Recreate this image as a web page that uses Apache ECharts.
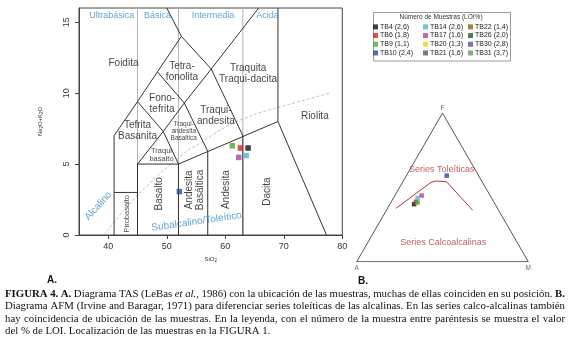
<!DOCTYPE html>
<html><head><meta charset="utf-8">
<script src="https://cdn.jsdelivr.net/npm/echarts@6/dist/echarts.min.js"></script>
<style>html,body{margin:0;padding:0;background:#fff}#c{width:570px;height:340px}</style>
</head><body><div id="c"></div>
<script>
// ---------- Samples ----------
const sampleNames = ['TB4 (2,6)','TB6 (1,8)','TB9 (1,1)','TB10 (2,4)','TB14 (2,6)','TB17 (1,6)','TB20 (1,3)','TB21 (1,6)','TB22 (1,4)','TB26 (2,0)','TB30 (2,8)','TB31 (3,7)'];
const sampleColors = ['#111111','#e01f1f','#58a832','#2b4a9a','#4cb5d2','#b0459e','#e6d323','#5a5a5a','#8b5c1c','#1f5c2a','#55559c','#5f9a5f'];
// TAS: SiO2 (wt%) and Na2O+K2O (wt%) ; null = hidden under other samples
const tasSiO2 = [63.9, 62.6, 61.2, 52.15, 63.6, 62.3, null, null, null, null, null, null];
const tasAlk  = [6.13, 6.13, 6.29, 3.06, 5.6, 5.47, null, null, null, null, null, null];
// AFM: A, F, M (%)
const afmA = [47.2, 45.3, 44.6, 18.6, 43.1, 39.9, null, null, null, null, null, null];
const afmF = [38.7, 40.3, 39.8, 57.9, 42.9, 44.5, null, null, null, null, null, null];
const afmM = [14.1, 14.4, 15.6, 23.5, 14.0, 15.6, null, null, null, null, null, null];

// ---------- TAS field boundaries (SiO2, Na2O+K2O) ----------
const tasBoundaries = [
  [[41,0],[41,7],[45,9.4],[48.4,11.5],[52.5,14],[50,16]],
  [[52.5,14],[57.6,11.7],[63,7]],
  [[45,5],[49.4,7.3],[53,9.3],[57.6,11.7],[65.7,16]],
  [[41,3],[45,3]],
  [[45,0],[45,5],[52,5],[52,0]],
  [[52,5],[69,8]],
  [[49.4,7.3],[52,5]],
  [[53,9.3],[57,5.9],[57,0]],
  [[63,0],[63,7]],
  [[69,16],[69,8],[77.3,0]],
  [[45,9.4],[49.4,7.3]],
  [[48.4,11.5],[53,9.3]]
];
const silicaDivisions = [45, 52, 63];
const alkalineSiO2 = [39.2, 40, 43.2, 45, 48, 50, 53.7, 55, 60, 65, 70, 77.8];
const alkalineAlk  = [0, 0.4, 2, 2.8, 4, 4.75, 6, 6.3, 7.6, 8.5, 9.1, 10];

// ---------- TAS labels ----------
const fieldLabels = [[42.6,12.1,'Foidita'],[52.6,11.5,'Tetra-\nfonolita'],[63.9,11.4,'Traquita\nTraqui-dacita'],
  [49.2,9.26,'Fono-\ntefrita'],[58.4,8.44,'Traqui-\nandesita'],[75.3,8.37,'Riolita'],[45,7.38,'Tefrita\nBasanita']];
const smallFieldLabels = [[52.9,7.35,'Traqui-\nandesita\nBasaltica']];
const trachybasaltLabel = [[49.1,5.66,'Traqui\nbasalto']];
const verticalLabels = [[48.8,2.9,'Basalto'],[54.8,3.18,'Andesita\nBasáltica'],[60.2,3.2,'Andesita'],[67.2,3.06,'Dacita']];
const picroLabel = [[43.2,1.5,'Pirobasalto']];
const silicaClassLabels = [[40.6,15.45,'Ultrabásica'],[48.4,15.45,'Básica'],[57.9,15.45,'Intermedia'],[67.2,15.45,'Acida']];
const alcalinoLabel = [[38.3,2.05,'Alcalino']];
const subalcalinoLabel = [[55.1,0.94,'Subalcalino/Toleítico']];
const xTicks = [40, 50, 60, 70, 80];
const yTicks = [0, 5, 10, 15];

// ---------- AFM ----------
const triangleA = [100, 0, 0, 100];
const triangleF = [0, 100, 0, 0];
const triangleM = [0, 0, 100, 0];
const curveA = [59.2, 30, 26.6, 20.7, 15.1];
const curveF = [35.9, 53.4, 54.3, 53.8, 34.6];
const curveM = [4.9, 16.6, 19.1, 25.5, 50.3];
const afmLabels = [[19.6,61.7,18.7,'Series Toleíticas'],[43.0,13.1,43.9,'Series Calcoalcalinas']];

const captionLines = [
  '*FIGURA *4. *A. Diagrama TAS (LeBas _et _al., 1986) con la ubicación de las muestras, muchas de ellas coinciden en su posición. *B.',
  'Diagrama AFM (Irvine and Baragar, 1971) para diferenciar series toleíticas de las alcalinas. En las series calco-alcalinas también',
  'hay coincidencia de ubicación de las muestras. En la leyenda, con el número de la muestra entre paréntesis se muestra el valor',
  'del % de LOI. Localización de las muestras en la FIGURA 1.'
];

// ---------- build ----------
const S3 = Math.sqrt(3) / 2;
function tern(a, f, m) { const s = a + f + m; return [100 * (m + f / 2) / s, 100 * f * S3 / s]; }

const BLUE = '#3a8cc4';
const series = [];
silicaDivisions.forEach(x => series.push({type:'line', xAxisIndex:0, yAxisIndex:0, data:[[x,0],[x,16]], symbol:'none', silent:true,
  lineStyle:{color:'#b4b4b4', width:1}, z:1, animation:false}));
series.push({type:'line', xAxisIndex:0, yAxisIndex:0, data: alkalineSiO2.map((x,i)=>[x, alkalineAlk[i]]), symbol:'none', smooth:0.3, silent:true,
  lineStyle:{color:'#b0b0b0', width:0.8, type:[3,2]}, z:1, animation:false});
tasBoundaries.forEach(pl => series.push({type:'line', xAxisIndex:0, yAxisIndex:0, data: pl, symbol:'none', silent:true,
  lineStyle:{color:'#333', width:1}, z:2, animation:false}));

function labelSeries(items, lab, xi) {
  return {type:'scatter', xAxisIndex:xi||0, yAxisIndex:xi||0, silent:true, symbolSize:1, itemStyle:{color:'rgba(0,0,0,0)'}, z:3, animation:false,
    data: items.map(d => ({value:[d[0], d[1]], name:d[2]})),
    label: Object.assign({show:true, position:'inside', align:'center', verticalAlign:'middle', formatter: p => p.name,
      fontFamily:'Liberation Sans, Arial', color:'#111'}, lab)};
}
series.push(labelSeries(fieldLabels, {fontSize:10, lineHeight:11}));
series.push(labelSeries(smallFieldLabels, {fontSize:6.5, lineHeight:7}));
series.push(labelSeries(trachybasaltLabel, {fontSize:7.5, lineHeight:8.5}));
series.push(labelSeries(verticalLabels, {fontSize:10, lineHeight:11, rotate:90}));
series.push(labelSeries(picroLabel, {fontSize:7.5, rotate:90}));
series.push(labelSeries(silicaClassLabels, {fontSize:9, color:BLUE}));
series.push(labelSeries(alcalinoLabel, {fontSize:10, color:BLUE, rotate:48}));
series.push(labelSeries(subalcalinoLabel, {fontSize:10, color:BLUE, rotate:8}));

// ternary frame and curve
series.push({type:'line', xAxisIndex:1, yAxisIndex:1, data: triangleA.map((a,i)=>tern(a, triangleF[i], triangleM[i])), symbol:'none', silent:true,
  lineStyle:{color:'#555', width:1}, z:2, animation:false});
series.push({type:'line', xAxisIndex:1, yAxisIndex:1, data: curveA.map((a,i)=>tern(a, curveF[i], curveM[i])), symbol:'none', silent:true,
  lineStyle:{color:'#b2353a', width:1}, z:2, animation:false});
series.push(labelSeries(afmLabels.map(d => { const p = tern(d[0], d[1], d[2]); return [p[0], p[1], d[3]]; }), {fontSize:9, color:'#b2353a'}, 1));
series.push({type:'scatter', xAxisIndex:1, yAxisIndex:1, silent:true, symbolSize:1, itemStyle:{color:'rgba(0,0,0,0)'}, z:3, animation:false,
  data:[{value:tern(100,0,0), name:'A', label:{position:'bottom', distance:3}},
        {value:tern(0,100,0), name:'F', label:{position:'top', distance:1}},
        {value:tern(0,0,100), name:'M', label:{position:'bottom', distance:3}}],
  label:{show:true, formatter:p=>p.name, fontSize:6.5, color:'#444', fontFamily:'Liberation Sans, Arial'}});

// samples
sampleNames.forEach((n, i) => {
  series.push({type:'scatter', name:n, xAxisIndex:0, yAxisIndex:0, symbol:'rect', symbolSize:5.5, z:5, animation:false,
    itemStyle:{color:sampleColors[i]},
    data: tasSiO2[i] == null ? [] : [[tasSiO2[i], tasAlk[i]]]});
});
sampleNames.forEach((n, i) => {
  series.push({type:'scatter', name:n, xAxisIndex:1, yAxisIndex:1, symbol:'rect', symbolSize:4.5, z:5, animation:false,
    itemStyle:{color:sampleColors[i]},
    data: afmA[i] == null ? [] : [tern(afmA[i], afmF[i], afmM[i])]});
});

// caption (justified)
const ctx = document.createElement('canvas').getContext('2d');
const CAP_FS = 10.8, CAP_FAMILY = '"Liberation Serif", "Times New Roman", serif';
function capFont(k) { return (k === 'b' ? 'bold ' : k === 'i' ? 'italic ' : '') + CAP_FS + 'px ' + CAP_FAMILY; }
const graphics = [];
const capLeft = 5, capRight = 565, capTop = [294, 306.5, 319, 331.5];
captionLines.forEach((line, li) => {
  const words = line.split(' ').map(w => w[0] === '*' ? {t:w.slice(1), k:'b'} : w[0] === '_' ? {t:w.slice(1), k:'i'} : {t:w, k:'n'});
  words.forEach(w => { ctx.font = capFont(w.k); w.w = ctx.measureText(w.t).width; });
  const total = words.reduce((s, w) => s + w.w, 0);
  ctx.font = capFont('n');
  const sp = li < captionLines.length - 1 ? (capRight - capLeft - total) / (words.length - 1) : ctx.measureText(' ').width;
  let x = capLeft;
  words.forEach(w => {
    graphics.push({type:'text', x:x, y:capTop[li], silent:true,
      style:{text:w.t, font:capFont(w.k), fill:'#111', textVerticalAlign:'middle', verticalAlign:'middle'}});
    x += w.w + sp;
  });
});
graphics.push({type:'text', x:47, y:280, style:{text:'A.', font:'bold 10px "Liberation Sans", Arial', fill:'#111', verticalAlign:'middle'}});
graphics.push({type:'text', x:358, y:281, style:{text:'B.', font:'bold 10px "Liberation Sans", Arial', fill:'#111', verticalAlign:'middle'}});
// legend box and title
graphics.push({type:'rect', shape:{x:373.5, y:12.5, width:137, height:48.5}, style:{fill:'none', stroke:'#9a9a9a', lineWidth:1}, z:-1});
graphics.push({type:'text', x:441, y:17.5, silent:true,
  style:{text:'Número de Muestras (LOI%)', font:'6.5px "Liberation Sans", Arial', fill:'#333', align:'center', verticalAlign:'middle'}});

const subRich = {s:{fontSize:4.5, padding:[3,0,0,0], color:'#333'}};
const option = {
  animation:false,
  grid:[{left:79, top:8, width:263.3, height:227, show:true, borderColor:'#444', borderWidth:1, backgroundColor:'transparent'},
        {left:356.7, top:113.1, width:171.6, height:148.6}],
  xAxis:[{type:'value', gridIndex:0, min:35, max:80, splitLine:{show:false},
          axisLine:{show:true, lineStyle:{color:'#444'}},
          axisTick:{show:true, length:4, customValues:xTicks, lineStyle:{color:'#444'}},
          axisLabel:{customValues:xTicks, fontSize:9, color:'#333', margin:7, fontFamily:'Liberation Sans, Arial'},
          name:'SiO{s|2}', nameLocation:'middle', nameGap:20,
          nameTextStyle:{fontSize:6, color:'#333', rich:subRich}},
         {type:'value', gridIndex:1, min:0, max:100, show:false}],
  yAxis:[{type:'value', gridIndex:0, min:0, max:16, splitLine:{show:false},
          axisLine:{show:true, lineStyle:{color:'#444'}},
          axisTick:{show:true, length:4, customValues:yTicks, lineStyle:{color:'#444'}},
          axisLabel:{customValues:yTicks, fontSize:9, color:'#333', rotate:90, margin:8, fontFamily:'Liberation Sans, Arial'},
          name:'Na{s|2}O+K{s|2}O', nameLocation:'middle', nameGap:35, nameRotate:90,
          nameTextStyle:{fontSize:6, color:'#333', rich:subRich}},
         {type:'value', gridIndex:1, min:0, max:100 * S3, show:false}],
  legend:[0,1,2].map(c => ({orient:'vertical', left:[373,423,468][c], top:23, padding:0,
    data: sampleNames.slice(c*4, c*4+4), icon:'rect', itemWidth:5, itemHeight:5, itemGap:1, selectedMode:false,
    textStyle:{fontSize:7, lineHeight:7.7, color:'#222', fontFamily:'Liberation Sans, Arial', padding:[0,0,0,-3]}})),
  graphic: graphics,
  series: series
};
const chart = echarts.init(document.getElementById('c'));
chart.setOption(option);
</script></body></html>
